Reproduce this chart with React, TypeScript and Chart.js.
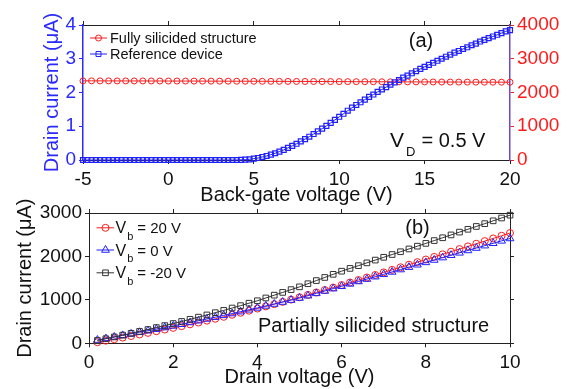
import React, { useEffect, useRef } from "react";
import { Chart, registerables } from "chart.js";

Chart.register(...registerables);
Chart.defaults.font.family = "'Liberation Sans', Arial, Helvetica, sans-serif";

// ---------- Panel (a): back-gate sweep ----------
const backGateCoarse = [
  -5, -4.5, -4, -3.5, -3, -2.5, -2, -1.5, -1, -0.5, 0, 0.5, 1, 1.5, 2, 2.5, 3, 3.5, 4, 4.5,
  5, 5.5, 6, 6.5, 7, 7.5, 8, 8.5, 9, 9.5, 10, 10.5, 11, 11.5, 12, 12.5, 13, 13.5, 14, 14.5,
  15, 15.5, 16, 16.5, 17, 17.5, 18, 18.5, 19, 19.5, 20,
];
// Fully silicided structure (right axis, µA)
const fullySilicidedCurrent = [
  2345, 2345, 2344, 2344, 2343, 2343, 2342, 2342, 2341, 2341, 2340, 2339, 2339, 2338, 2337,
  2337, 2336, 2335, 2334, 2334, 2333, 2332, 2331, 2330, 2329, 2328, 2327, 2326, 2325, 2324,
  2323, 2322, 2321, 2320, 2319, 2318, 2317, 2316, 2315, 2314, 2313, 2312, 2311, 2310, 2309,
  2308, 2307, 2306, 2306, 2305, 2305,
];

const backGateFine = [
  -5, -4.75, -4.5, -4.25, -4, -3.75, -3.5, -3.25, -3, -2.75, -2.5, -2.25, -2, -1.75, -1.5, -1.25,
  -1, -0.75, -0.5, -0.25, 0, 0.25, 0.5, 0.75, 1, 1.25, 1.5, 1.75, 2, 2.25, 2.5, 2.75, 3, 3.25,
  3.5, 3.75, 4, 4.25, 4.5, 4.75, 5, 5.25, 5.5, 5.75, 6, 6.25, 6.5, 6.75, 7, 7.25, 7.5, 7.75, 8,
  8.25, 8.5, 8.75, 9, 9.25, 9.5, 9.75, 10, 10.25, 10.5, 10.75, 11, 11.25, 11.5, 11.75, 12, 12.25,
  12.5, 12.75, 13, 13.25, 13.5, 13.75, 14, 14.25, 14.5, 14.75, 15, 15.25, 15.5, 15.75, 16, 16.25,
  16.5, 16.75, 17, 17.25, 17.5, 17.75, 18, 18.25, 18.5, 18.75, 19, 19.25, 19.5, 19.75, 20,
];
// Reference device (left axis, µA)
const referenceCurrent = [
  0, 0, 0, 0, 0, 0, 0, 0, 0, 0, 0, 0, 0, 0, 0, 0, 0, 0, 0, 0,
  0, 0, 0, 0, 0, 0, 0, 0, 0, 0, 0, 0, 0, 0, 0, 0,
  0, 0.005, 0.01, 0.02, 0.04, 0.06, 0.09, 0.12, 0.16, 0.2, 0.25, 0.3, 0.36, 0.42, 0.48, 0.55,
  0.62, 0.69, 0.77, 0.85, 0.93, 1.01, 1.1, 1.19, 1.28, 1.37, 1.46, 1.55, 1.63, 1.71, 1.79, 1.87,
  1.94, 2.02, 2.09, 2.16, 2.23, 2.3, 2.37, 2.44, 2.5, 2.57, 2.63, 2.7, 2.76, 2.82, 2.88, 2.94,
  3.0, 3.06, 3.12, 3.18, 3.23, 3.29, 3.34, 3.4, 3.45, 3.51, 3.56, 3.61, 3.66, 3.71, 3.76, 3.81,
  3.85,
];

// ---------- Panel (b): drain sweep ----------
const drainVoltage = [
  0.2, 0.4, 0.6, 0.8, 1, 1.2, 1.4, 1.6, 1.8, 2, 2.2, 2.4, 2.6, 2.8, 3, 3.2, 3.4, 3.6, 3.8, 4,
  4.2, 4.4, 4.6, 4.8, 5, 5.2, 5.4, 5.6, 5.8, 6, 6.2, 6.4, 6.6, 6.8, 7, 7.2, 7.4, 7.6, 7.8, 8,
  8.2, 8.4, 8.6, 8.8, 9, 9.2, 9.4, 9.6, 9.8, 10,
];
const currentVb20 = [
  25, 60, 95, 131, 167, 203, 240, 278, 316, 355, 395, 436, 478, 521, 565, 610, 656, 703, 751, 800,
  850, 901, 953, 1006, 1060, 1115, 1171, 1227, 1284, 1341, 1399, 1457, 1515, 1573, 1632, 1691,
  1750, 1809, 1869, 1929, 1989, 2049, 2109, 2170, 2231, 2292, 2353, 2414, 2476, 2538,
];
const currentVb0 = [
  75, 110, 146, 182, 218, 254, 290, 326, 363, 400, 439, 479, 519, 560, 601, 643, 685, 728, 771,
  815, 860, 905, 950, 995, 1042, 1095, 1149, 1203, 1258, 1313, 1368, 1423, 1478, 1533, 1588,
  1643, 1698, 1753, 1808, 1863, 1918, 1973, 2028, 2083, 2138, 2193, 2248, 2303, 2358, 2413,
];
const currentVbMinus20 = [
  65, 105, 146, 188, 230, 273, 317, 362, 408, 455, 503, 552, 602, 653, 705, 758, 812, 867, 923,
  980, 1044, 1108, 1172, 1236, 1300, 1372, 1444, 1516, 1588, 1660, 1724, 1788, 1852, 1916, 1980,
  2044, 2108, 2172, 2236, 2300, 2365, 2430, 2495, 2560, 2625, 2690, 2755, 2820, 2885, 2950,
];

const RED = "#ff1a1a";
const BLUE = "#2020ff";
const BLACK = "#333333";
const AXIS_BLUE = "#2a2aff";
const AXIS_PURPLE = "#6a4ad0";

const W = 570;
const H = 389;

const plain = (v: any) => String(v);

function pts(xs: number[], ys: number[]) {
  return xs.map((x, i) => ({ x, y: ys[i] }));
}

function drawMarker(ctx: CanvasRenderingContext2D, style: string, x: number, y: number, r: number, color: string) {
  ctx.save();
  ctx.strokeStyle = color;
  ctx.lineWidth = 1;
  ctx.beginPath();
  if (style === "circle") {
    ctx.arc(x, y, r, 0, Math.PI * 2);
  } else if (style === "rect") {
    const s = r / Math.SQRT2;
    ctx.rect(x - s, y - s, 2 * s, 2 * s);
  } else {
    ctx.moveTo(x, y - r);
    ctx.lineTo(x + 0.866 * r, y + 0.5 * r);
    ctx.lineTo(x - 0.866 * r, y + 0.5 * r);
    ctx.closePath();
  }
  ctx.stroke();
  ctx.restore();
}

function legendLine(ctx: CanvasRenderingContext2D, x1: number, x2: number, y: number, color: string) {
  ctx.save();
  ctx.strokeStyle = color;
  ctx.lineWidth = 1;
  ctx.beginPath();
  ctx.moveTo(x1, y);
  ctx.lineTo(x2, y);
  ctx.stroke();
  ctx.restore();
}

function text(ctx: CanvasRenderingContext2D, s: string, x: number, y: number, size: number, color = "#111", align: CanvasTextAlign = "left", baseline: CanvasTextBaseline = "alphabetic") {
  ctx.save();
  ctx.font = `${size}px 'Liberation Sans', Arial, sans-serif`;
  ctx.fillStyle = color;
  ctx.textAlign = align;
  ctx.textBaseline = baseline;
  ctx.fillText(s, x, y);
  ctx.restore();
}

const topAnnotations = {
  id: "topAnnotations",
  afterDraw(chart: any) {
    const ctx = chart.ctx as CanvasRenderingContext2D;
    legendLine(ctx, 90, 107, 38, RED);
    drawMarker(ctx, "circle", 98.5, 38, 3, RED);
    text(ctx, "Fully silicided structure", 110, 38.5, 14.5, "#111", "left", "middle");
    legendLine(ctx, 90, 107, 54, BLUE);
    drawMarker(ctx, "rect", 98.5, 54, 3.5, BLUE);
    text(ctx, "Reference device", 110, 54.5, 14.5, "#111", "left", "middle");
    text(ctx, "(a)", 421, 41, 20, "#111", "center", "middle");
    text(ctx, "V", 390, 146.7, 21);
    text(ctx, "D", 406, 156, 13);
    text(ctx, "= 0.5 V", 421.5, 146.7, 20);
  },
};

const bottomAnnotations = {
  id: "bottomAnnotations",
  afterDraw(chart: any) {
    const ctx = chart.ctx as CanvasRenderingContext2D;
    const rows = [
      { y: 233.3, color: RED, style: "circle", r: 3.5, label: "= 20 V" },
      { y: 255.5, color: BLUE, style: "triangle", r: 4.5, label: "= 0 V" },
      { y: 278.3, color: BLACK, style: "rect", r: 4, label: "= -20 V" },
    ];
    rows.forEach((row) => {
      const my = row.y - 5.5;
      legendLine(ctx, 96.5, 114, my, row.color);
      drawMarker(ctx, row.style, 105.5, my, row.r, row.color);
      text(ctx, "V", 115.5, row.y, 16);
      text(ctx, "b", 127.3, row.y + 6.5, 11);
      text(ctx, row.label, 137.3, row.y, 15);
    });
    text(ctx, "(b)", 417.5, 228, 20, "#111", "center", "middle");
    text(ctx, "Partially silicided structure", 258, 332, 20);
  },
};

function makeX(min: number, max: number, step: number, title: string, height: number, titlePadBottom: number) {
  return {
    type: "linear",
    position: "bottom",
    min,
    max,
    ticks: { stepSize: step, color: "#111", font: { size: 19 }, padding: 4, maxRotation: 0, callback: plain },
    grid: { drawOnChartArea: false, tickLength: 4, color: "#222" },
    border: { color: "#222", width: 1 },
    title: { display: true, text: title, color: "#111", font: { size: 20 }, padding: { top: 0, bottom: titlePadBottom } },
    afterFit: (s: any) => {
      s.height = height;
    },
  };
}

function makeXTop(min: number, max: number, step: number, height: number) {
  return {
    type: "linear",
    axis: "x",
    position: "top",
    min,
    max,
    ticks: { stepSize: step, display: false },
    grid: { drawOnChartArea: false, tickLength: 4, color: "#222" },
    border: { color: "#222", width: 1 },
    afterFit: (s: any) => {
      s.height = height;
    },
  };
}

export default function App() {
  const topRef = useRef<HTMLCanvasElement | null>(null);
  const bottomRef = useRef<HTMLCanvasElement | null>(null);

  useEffect(() => {
    if (!topRef.current || !bottomRef.current) return;

    const top = new Chart(topRef.current, {
      type: "line",
      data: {
        datasets: [
          {
            label: "Reference device",
            data: pts(backGateFine, referenceCurrent),
            yAxisID: "y",
            xAxisID: "x",
            borderColor: BLUE,
            borderWidth: 1,
            pointStyle: "rect",
            pointRadius: 3.5,
            pointBorderColor: BLUE,
            pointBackgroundColor: "rgba(0,0,0,0)",
            pointBorderWidth: 1.2,
            clip: false,
            order: 1,
          },
          {
            label: "Fully silicided structure",
            data: pts(backGateCoarse, fullySilicidedCurrent),
            yAxisID: "y2",
            xAxisID: "x",
            borderColor: RED,
            borderWidth: 1,
            pointStyle: "circle",
            pointRadius: 3,
            pointBorderColor: RED,
            pointBackgroundColor: "rgba(0,0,0,0)",
            pointBorderWidth: 1,
            clip: false,
            order: 2,
          },
        ],
      },
      options: {
        animation: false,
        responsive: false,
        devicePixelRatio: 1,
        layout: { padding: { left: 36, top: 0, right: 0, bottom: 178 } },
        plugins: { legend: { display: false }, tooltip: { enabled: false } },
        scales: {
          x: makeX(-5, 20, 5, "Back-gate voltage (V)", 51, 4),
          xTop: makeXTop(-5, 20, 5, 25),
          y: {
            type: "linear",
            position: "left",
            min: 0,
            max: 4,
            ticks: { stepSize: 1, color: AXIS_BLUE, font: { size: 19 }, padding: 3, callback: plain },
            grid: { drawOnChartArea: false, tickLength: 4, color: AXIS_BLUE },
            border: { color: AXIS_BLUE, width: 1.5 },
            title: { display: true, text: "Drain current (μA)", color: AXIS_BLUE, font: { size: 20 } },
            afterFit: (s: any) => {
              s.width = 47;
            },
          },
          y2: {
            type: "linear",
            position: "right",
            min: 0,
            max: 4000,
            ticks: { stepSize: 1000, color: RED, font: { size: 19 }, padding: 3, callback: plain },
            grid: { drawOnChartArea: false, tickLength: 4, color: RED },
            border: { color: AXIS_PURPLE, width: 1.5 },
            afterFit: (s: any) => {
              s.width = 60;
            },
          },
        },
      } as any,
      plugins: [topAnnotations],
    });

    const bottom = new Chart(bottomRef.current, {
      type: "line",
      data: {
        datasets: [
          {
            label: "Vb = 20 V",
            data: pts(drainVoltage, currentVb20),
            borderColor: RED,
            borderWidth: 1,
            pointStyle: "circle",
            pointRadius: 3.5,
            pointBorderColor: RED,
            pointBackgroundColor: "rgba(0,0,0,0)",
            pointBorderWidth: 1,
            clip: false,
            order: 3,
          },
          {
            label: "Vb = 0 V",
            data: pts(drainVoltage, currentVb0),
            borderColor: BLUE,
            borderWidth: 1,
            pointStyle: "triangle",
            pointRadius: 4.5,
            pointBorderColor: BLUE,
            pointBackgroundColor: "rgba(0,0,0,0)",
            pointBorderWidth: 1,
            clip: false,
            order: 2,
          },
          {
            label: "Vb = -20 V",
            data: pts(drainVoltage, currentVbMinus20),
            borderColor: BLACK,
            borderWidth: 1,
            pointStyle: "rect",
            pointRadius: 4,
            pointBorderColor: BLACK,
            pointBackgroundColor: "rgba(0,0,0,0)",
            pointBorderWidth: 1,
            clip: false,
            order: 1,
          },
        ],
      },
      options: {
        animation: false,
        responsive: false,
        devicePixelRatio: 1,
        layout: { padding: { left: 9, top: 200, right: 0, bottom: 0 } },
        plugins: { legend: { display: false }, tooltip: { enabled: false } },
        scales: {
          x: makeX(0, 10, 2, "Drain voltage (V)", 45.7, 0),
          xTop: makeXTop(0, 10, 2, 13),
          y: {
            type: "linear",
            position: "left",
            min: 0,
            max: 3000,
            ticks: { stepSize: 1000, color: "#111", font: { size: 19 }, padding: 3, callback: plain },
            grid: { drawOnChartArea: false, tickLength: 4, color: "#222" },
            border: { color: "#222", width: 1 },
            title: { display: true, text: "Drain current (μA)", color: "#111", font: { size: 20 } },
            afterFit: (s: any) => {
              s.width = 80;
            },
          },
          y2: {
            type: "linear",
            position: "right",
            min: 0,
            max: 3000,
            ticks: { stepSize: 1000, display: false },
            grid: { drawOnChartArea: false, tickLength: 4, color: "#222" },
            border: { color: "#222", width: 1 },
            afterFit: (s: any) => {
              s.width = 60;
            },
          },
        },
      } as any,
      plugins: [bottomAnnotations],
    });

    return () => {
      top.destroy();
      bottom.destroy();
    };
  }, []);

  return (
    <div style={{ position: "fixed", left: 0, top: 0, width: W, height: H, background: "#fff", overflow: "hidden" }}>
      <canvas ref={bottomRef} width={W} height={H} style={{ position: "absolute", left: 0, top: 0, width: W, height: H }} />
      <canvas ref={topRef} width={W} height={H} style={{ position: "absolute", left: 0, top: 0, width: W, height: H }} />
    </div>
  );
}
